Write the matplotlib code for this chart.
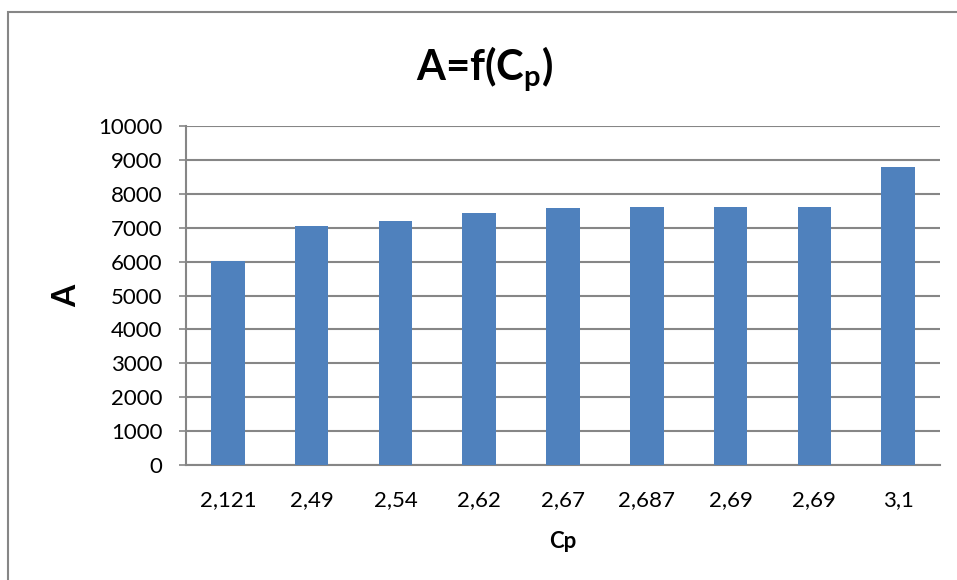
import matplotlib
matplotlib.use("Agg")
import matplotlib.pyplot as plt
from matplotlib.patches import Rectangle

categories = ["2,121", "2,49", "2,54", "2,62", "2,67", "2,687", "2,69", "2,69", "3,1"]
values = [6010, 7060, 7200, 7430, 7570, 7620, 7620, 7620, 8790]
yticks = [0, 1000, 2000, 3000, 4000, 5000, 6000, 7000, 8000, 9000, 10000]

plt.rcParams['font.family'] = ['Lato', 'DejaVu Sans']

W, H = 957, 580
fig = plt.figure(figsize=(W / 100, H / 100), dpi=100)
fig.patch.set_facecolor("white")

# outer chart border
fig.patches.append(Rectangle((8 / W, -0.1), 1.2, 1 - 12 / H + 0.1, transform=fig.transFigure,
                             fill=False, edgecolor="#868686", linewidth=1.5))

left, right, top, bottom = 186, 940, 126, 465
ax = fig.add_axes([left / W, 1 - bottom / H, (right - left) / W, (bottom - top) / H])

x = list(range(len(categories)))
ax.bar(x, values, width=0.4, color="#4F81BD", zorder=3)
ax.set_xlim(-0.5, len(categories) - 0.5)
ax.set_ylim(0, 10000)
ax.set_yticks(yticks)
ax.set_yticklabels([str(v) for v in yticks], fontsize=16)
ax.set_xticks(x)
ax.set_xticklabels(categories, fontsize=16)
ax.yaxis.grid(True, color="#868686", linewidth=1.5, zorder=0)
ax.set_axisbelow(True)
for s in ["top", "right"]:
    ax.spines[s].set_visible(False)
for s in ["left", "bottom"]:
    ax.spines[s].set_color("#868686")
    ax.spines[s].set_linewidth(1.5)
ax.tick_params(axis="y", length=5, color="#868686", width=1.2, pad=12)
ax.tick_params(axis="x", length=0, pad=18)

ax.set_xlabel("Cp", fontsize=16, fontweight="bold", labelpad=15)
ax.set_ylabel("A", fontsize=23, fontweight="bold", labelpad=12)

fig.text(485 / W, 1 - 69 / H, r"A=f(C$_{\mathregular{p}}$)", fontsize=30, fontweight="bold",
         ha="center", va="center")

fig.savefig("out.png", dpi=100)
